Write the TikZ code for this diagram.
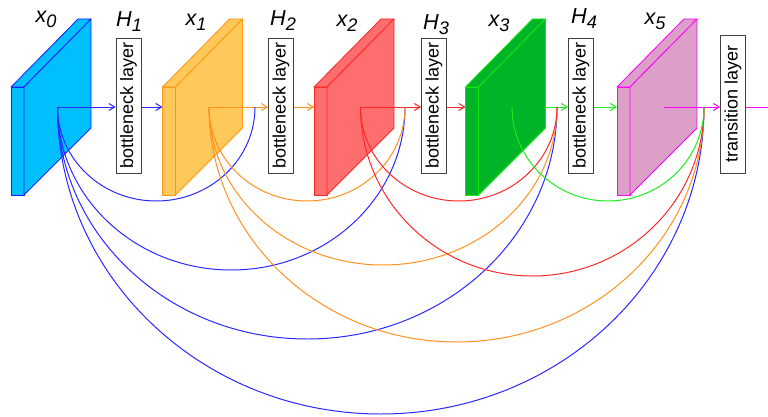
\documentclass[tikz,border=0pt]{standalone}
\usepackage{fontspec}
\setmainfont{Liberation Sans}
\usetikzlibrary{arrows.meta,calc}

\definecolor{fill0}{RGB}{0,191,255}
\definecolor{edge0}{RGB}{30,30,255}
\definecolor{fill1}{RGB}{255,200,90}
\definecolor{edge1}{RGB}{255,150,20}
\definecolor{fill2}{RGB}{255,110,110}
\definecolor{edge2}{RGB}{255,40,40}
\definecolor{fill3}{RGB}{0,180,40}
\definecolor{edge3}{RGB}{20,230,20}
\definecolor{fill5}{RGB}{220,160,200}
\definecolor{edge5}{RGB}{255,0,255}
\definecolor{ln0}{RGB}{40,40,255}
\definecolor{ln1}{RGB}{255,145,30}
\definecolor{ln2}{RGB}{255,40,40}
\definecolor{ln3}{RGB}{30,235,30}
\definecolor{ln5}{RGB}{255,0,255}

\newcommand\lab[2]{\textit{#1\raisebox{-0.22em}{\fontsize{15.5}{15.5}\selectfont #2}}}

\begin{document}
\begin{tikzpicture}[x=0.03cm, y=0.03cm, line width=0.85pt,
    layerbox/.style={draw=black!75, line width=0.7pt, minimum width=0.75cm, minimum height=4.05cm, inner sep=0pt, font=\fontsize{15.4}{16}\selectfont},
    lbl/.style={anchor=base, inner sep=0pt, font=\fontsize{18.5}{18.5}\selectfont},
    flow/.style={-{Straight Barb[length=5pt,width=6pt]}}]
  \useasboundingbox (0,0) rectangle (768,416);

  % 1. feature map blocks (front face, top face, big face)
  \foreach \fl/\id/\lx/\ly in {11/0/46/393, 162.5/1/196/390, 314/2/347/389, 465.5/3/499/389, 617/5/655/391} {
    \draw[edge\id, fill=fill\id, line width=0.7pt, line join=round] (\fl,221) rectangle ({\fl+13},329);
    \draw[edge\id, fill=fill\id, line width=0.7pt, line join=round] (\fl,329) -- ({\fl+13},329) -- ({\fl+80},397) -- ({\fl+67},397) -- cycle;
    \draw[edge\id, fill=fill\id, line width=0.7pt, line join=round] ({\fl+13},221) -- ({\fl+13},329) -- ({\fl+80},397) -- ({\fl+80},288) -- cycle;
    \coordinate (f\id) at (\fl,309);
    \coordinate (c\id) at ({\fl+46.5},309);
    \coordinate (r\id) at ({\fl+80},309);
    \node[lbl] (x\id) at (\lx,\ly) {\lab{x}{\id}};
  }

  % 2. bottleneck and transition layers
  \node[layerbox] (h1) at (128.5,310.5) {\rotatebox{90}{bottleneck layer}};
  \node[layerbox] (h2) at (281,310.5) {\rotatebox{90}{bottleneck layer}};
  \node[layerbox] (h3) at (434,310.5) {\rotatebox{90}{bottleneck layer}};
  \node[layerbox] (h4) at (581,310.5) {\rotatebox{90}{bottleneck layer}};
  \node[layerbox, minimum height=4.14cm] (tr) at (733,312) {\rotatebox{90}{transition layer}};

  \node[lbl] (l1) at (129,389) {\lab{H}{1}};
  \node[lbl] (l2) at (283,390) {\lab{H}{2}};
  \node[lbl] (l3) at (436,386) {\lab{H}{3}};
  \node[lbl] (l4) at (584,392) {\lab{H}{4}};

  % 3. straight path through the layers
  \coordinate (e2) at (255,309);
  \coordinate (e3) at (405,309);
  \coordinate (e4) at (557,309);
  \coordinate (e5) at (704,309);
  \coordinate (out) at (768,309);

  \draw[flow, ln0] (c0) -- (c0 -| h1.west);
  \draw[flow, ln0] (c0 -| h1.east) -- (f1);
  \draw[flow, ln1] (c1) -- (c1 -| h2.west);
  \draw[flow, ln1] (c1 -| h2.east) -- (f2);
  \draw[flow, ln2] (c2) -- (c2 -| h3.west);
  \draw[flow, ln2] (c2 -| h3.east) -- (f3);
  \draw[flow, ln3] (r3) -- (r3 -| h4.west);
  \draw[flow, ln3] (r3 -| h4.east) -- (f5);
  \draw[flow, ln5] (c5) -- (c5 -| tr.west);
  \draw[ln5] (c5 -| tr.east) -- (out);

  % 4. dense skip connections (half ellipses)
  \foreach \s/\e/\d in {0/2/94, 0/3/163, 0/4/232, 0/5/307, 1/3/94, 1/4/158, 1/5/235, 2/4/94, 2/5/169, 3/5/94}
    \draw[ln\s] let \p1=(c\s), \p2=(e\e) in (\p1) arc[start angle=180, end angle=360, x radius={(\x2-\x1)/2}, y radius={\d*0.03cm}];
\end{tikzpicture}
\end{document}
